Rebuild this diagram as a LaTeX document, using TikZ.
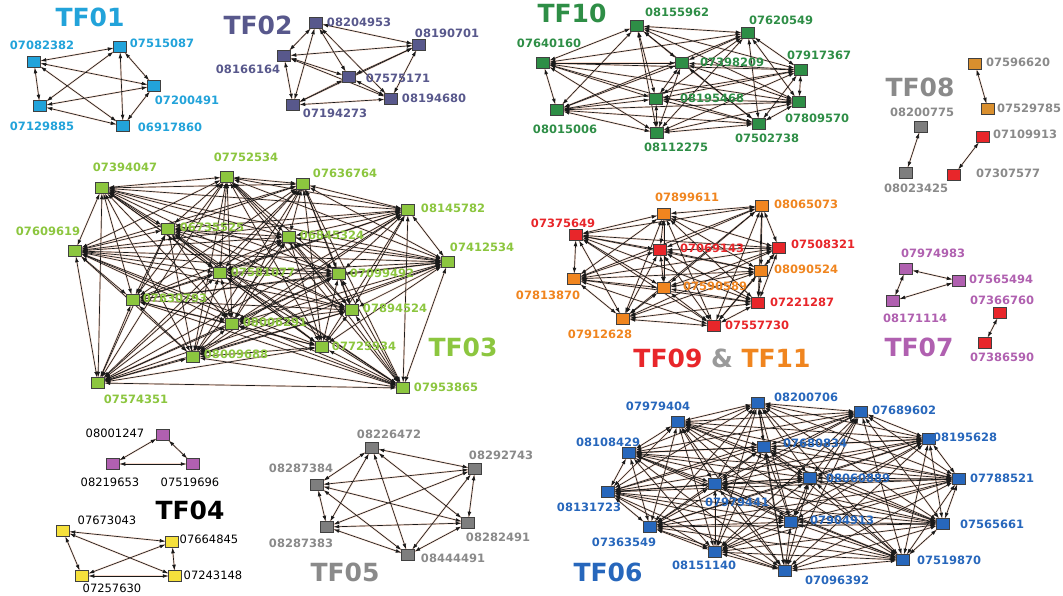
\documentclass[tikz,border=0pt]{standalone}
\usepackage{fontspec}
\setmainfont{DejaVu Sans}
\usetikzlibrary{arrows.meta}
\definecolor{tfcyan}{HTML}{22A3DA}
\definecolor{tfslate}{HTML}{58588C}
\definecolor{tfgreen}{HTML}{2E8E46}
\definecolor{tflime}{HTML}{8CC63F}
\definecolor{tfgrey}{HTML}{8A8A8A}
\definecolor{tfgreybox}{HTML}{7E7E7E}
\definecolor{tfred}{HTML}{E8262A}
\definecolor{tforange}{HTML}{F0851F}
\definecolor{tfamber}{HTML}{D98F2E}
\definecolor{tfmagenta}{HTML}{B060B0}
\definecolor{tfyellow}{HTML}{F5E03C}
\definecolor{tfblue}{HTML}{2767BC}
\definecolor{tfamp}{HTML}{9A9A9A}
\definecolor{tfhalo}{HTML}{F8DCCF}
\pgfdeclarelayer{background}
\pgfsetlayers{background,main}
\tikzset{
  box/.style={draw=black!75,line width=0.5pt,minimum width=13pt,minimum height=11pt,inner sep=0pt},
  tag/.style={font=\bfseries\fontsize{11.5}{12}\selectfont,inner sep=0pt},
  title/.style={font=\bfseries\fontsize{25}{28}\selectfont,inner sep=0pt},
  link/.style={<->,>={Latex[length=5.5pt,width=3.8pt]},line width=0.65pt,draw=black!90},
  halo/.style={line width=1.8pt,draw=tfhalo}
}
% one gene: box + its id
\newcommand\gene[4][]{%
  \node[box,#1] (g#2) at (#3) {};
  \node[tag] (t#2) at (#4) {#2};}
% every pair of the list, both ways (halo first, then the wires)
\newcommand\meshpass[2]{%
  \foreach \a [count=\i] in {#2}{%
    \foreach \b [count=\j] in {#2}{%
      \ifnum\j>\i \draw[#1] (g\a) -- (g\b);\fi}}}
\newcommand\fullmesh[1]{\meshpass{halo}{#1}\meshpass{link}{#1}}

\begin{document}
\begin{tikzpicture}[x=1pt,y=-1pt]
  \useasboundingbox (0,0) rectangle (1063,596);

  % TF01
  \begin{scope}[box/.append style={fill=tfcyan},tag/.append style={text=tfcyan}]
    \node[title,text=tfcyan] (tf01) at (90,17) {TF01};
    \gene{07082382}{34,62}{42,45}
    \gene{07515087}{120,47}{162,43}
    \gene{07200491}{154,86}{187,100}
    \gene{07129885}{40,106}{42,126}
    \gene{06917860}{123,126}{170,127}
  \end{scope}

  % TF02
  \begin{scope}[box/.append style={fill=tfslate},tag/.append style={text=tfslate}]
    \node[title,text=tfslate] (tf02) at (258,25) {TF02};
    \gene{08204953}{316,23}{359,22}
    \gene{08190701}{419,45}{447,33}
    \gene{08166164}{284,56}{248,69}
    \gene{07575171}{349,77}{398,78}
    \gene{08194680}{391,99}{434,98}
    \gene{07194273}{293,105}{335,113}
  \end{scope}

  % TF10
  \begin{scope}[box/.append style={fill=tfgreen},tag/.append style={text=tfgreen}]
    \node[title,text=tfgreen] (tf10) at (572,13) {TF10};
    \gene{08155962}{637,26}{677,12}
    \gene{07620549}{748,33}{781,20}
    \gene{07640160}{543,63}{549,43}
    \gene{07398209}{682,63}{732,62}
    \gene{07917367}{801,70}{819,55}
    \gene{08195468}{656,99}{712,98}
    \gene{07809570}{799,102}{817,118}
    \gene{08015006}{557,110}{565,129}
    \gene{07502738}{759,124}{767,138}
    \gene{08112275}{657,133}{676,147}
  \end{scope}

  % TF08
  \begin{scope}[tag/.append style={text=tfgrey}]
    \node[title,text=tfgrey] (tf08) at (920,87) {TF08};
    \gene[fill=tfamber]{07596620}{975,64}{1018,62}
    \gene[fill=tfamber]{07529785}{988,109}{1029,108}
    \gene[fill=tfgreybox]{08200775}{921,127}{922,112}
    \gene[fill=tfgreybox]{08023425}{906,173}{916,188}
    \gene[fill=tfred]{07109913}{983,137}{1025,134}
    \gene[fill=tfred]{07307577}{954,175}{1008,173}
  \end{scope}

  % TF07
  \begin{scope}[box/.append style={fill=tfmagenta},tag/.append style={text=tfmagenta}]
    \node[title,text=tfmagenta] (tf07) at (919,347) {TF07};
    \gene{07974983}{906,269}{933,253}
    \gene{07565494}{959,281}{1001,279}
    \gene{08171114}{893,301}{915,318}
    \gene[fill=tfred]{07366760}{1000,313}{1002,300}
    \gene[fill=tfred]{07386590}{985,343}{1002,357}
  \end{scope}

  % TF03
  \begin{scope}[box/.append style={fill=tflime},tag/.append style={text=tflime}]
    \node[title,text=tflime] (tf03) at (463,347) {TF03};
    \gene{07752534}{227,177}{246,157}
    \gene{07394047}{102,188}{125,167}
    \gene{07636764}{303,184}{345,173}
    \gene{08145782}{408,210}{453,208}
    \gene{06735525}{168,229}{212,227}
    \gene{06845324}{289,237}{332,235}
    \gene{07609619}{75,251}{48,231}
    \gene{07412534}{448,262}{482,247}
    \gene{07581077}{220,273}{263,272}
    \gene{07099492}{339,274}{382,273}
    \gene{07830793}{133,300}{175,298}
    \gene{07894524}{352,310}{395,308}
    \gene{08006291}{232,324}{275,322}
    \gene{07725934}{322,347}{364,346}
    \gene{08009688}{193,357}{236,354}
    \gene{07574351}{98,383}{136,399}
    \gene{07953865}{403,388}{446,387}
  \end{scope}

  % TF09 & TF11
  \node[title] (tf0911) at (722,358)
    {\textcolor{tfred}{TF09} \textcolor{tfamp}{\&} \textcolor{tforange}{TF11}};
  \begin{scope}[box/.append style={fill=tfred},tag/.append style={text=tfred}]
    \gene{07375649}{576,235}{563,223}
    \gene{07069143}{660,250}{712,248}
    \gene{07508321}{779,248}{823,244}
    \gene{07221287}{758,303}{802,302}
    \gene{07557730}{714,326}{757,325}
  \end{scope}
  \begin{scope}[box/.append style={fill=tforange},tag/.append style={text=tforange}]
    \gene{07899611}{664,214}{687,197}
    \gene{08065073}{762,206}{806,204}
    \gene{08090524}{761,271}{806,269}
    \gene{07813870}{574,279}{548,295}
    \gene{07590589}{664,288}{715,286}
    \gene{07912628}{623,319}{600,334}
  \end{scope}

  % TF04
  \begin{scope}[tag/.append style={font=\fontsize{11.5}{12}\selectfont,text=black}]
    \node[title,text=black] (tf04) at (190,510) {TF04};
    \gene[fill=tfmagenta]{08001247}{163,435}{115,433}
    \gene[fill=tfmagenta]{08219653}{113,464}{110,482}
    \gene[fill=tfmagenta]{07519696}{193,464}{190,482}
    \gene[fill=tfyellow]{07673043}{63,531}{107,520}
    \gene[fill=tfyellow]{07664845}{172,542}{209,539}
    \gene[fill=tfyellow]{07257630}{82,576}{112,588}
    \gene[fill=tfyellow]{07243148}{175,576}{213,575}
  \end{scope}

  % TF05
  \begin{scope}[box/.append style={fill=tfgreybox},tag/.append style={text=tfgrey}]
    \node[title,text=tfgrey] (tf05) at (345,572) {TF05};
    \gene{08226472}{372,448}{389,434}
    \gene{08292743}{475,469}{501,455}
    \gene{08287384}{317,485}{301,468}
    \gene{08282491}{468,523}{498,537}
    \gene{08287383}{327,527}{301,543}
    \gene{08444491}{408,555}{453,558}
  \end{scope}

  % TF06
  \begin{scope}[box/.append style={fill=tfblue},tag/.append style={text=tfblue}]
    \node[title,text=tfblue] (tf06) at (608,572) {TF06};
    \gene{07979404}{678,422}{658,406}
    \gene{08200706}{758,403}{806,397}
    \gene{08108429}{629,453}{608,442}
    \gene{07680834}{764,447}{815,443}
    \gene{07689602}{861,412}{904,410}
    \gene{08195628}{929,439}{965,437}
    \gene{08131723}{608,492}{589,507}
    \gene{07979441}{715,484}{737,502}
    \gene{08060889}{810,478}{858,478}
    \gene{07788521}{959,479}{1002,478}
    \gene{07363549}{650,527}{624,542}
    \gene{07904913}{791,522}{842,520}
    \gene{07565661}{943,524}{992,524}
    \gene{08151140}{715,552}{704,565}
    \gene{07519870}{903,560}{949,560}
    \gene{07096392}{785,571}{837,580}
  \end{scope}

  % white sheet and all the links, under the boxes
  \begin{pgfonlayer}{background}
    \fill[white] (0,0) rectangle (1063,596);
    \fullmesh{07082382,07515087,07200491,07129885,06917860}
    \fullmesh{08204953,08190701,08166164,07575171,08194680,07194273}
    \fullmesh{08155962,07620549,07640160,07398209,07917367,08195468,07809570,08015006,07502738,08112275}
    \fullmesh{07596620,07529785}
    \fullmesh{08200775,08023425}
    \fullmesh{07109913,07307577}
    \fullmesh{07974983,07565494,08171114}
    \fullmesh{07366760,07386590}
    \fullmesh{07752534,07394047,07636764,08145782,06735525,06845324,07609619,07412534,07581077,07099492,07830793,07894524,08006291,07725934,08009688,07574351,07953865}
    \fullmesh{07375649,07069143,07508321,07221287,07557730,07899611,08065073,08090524,07813870,07590589,07912628}
    \fullmesh{08001247,08219653,07519696}
    \fullmesh{07673043,07664845,07257630,07243148}
    \fullmesh{08226472,08292743,08287384,08282491,08287383,08444491}
    \fullmesh{07979404,08200706,08108429,07680834,07689602,08195628,08131723,07979441,08060889,07788521,07363549,07904913,07565661,08151140,07519870,07096392}
  \end{pgfonlayer}
\end{tikzpicture}
\end{document}
